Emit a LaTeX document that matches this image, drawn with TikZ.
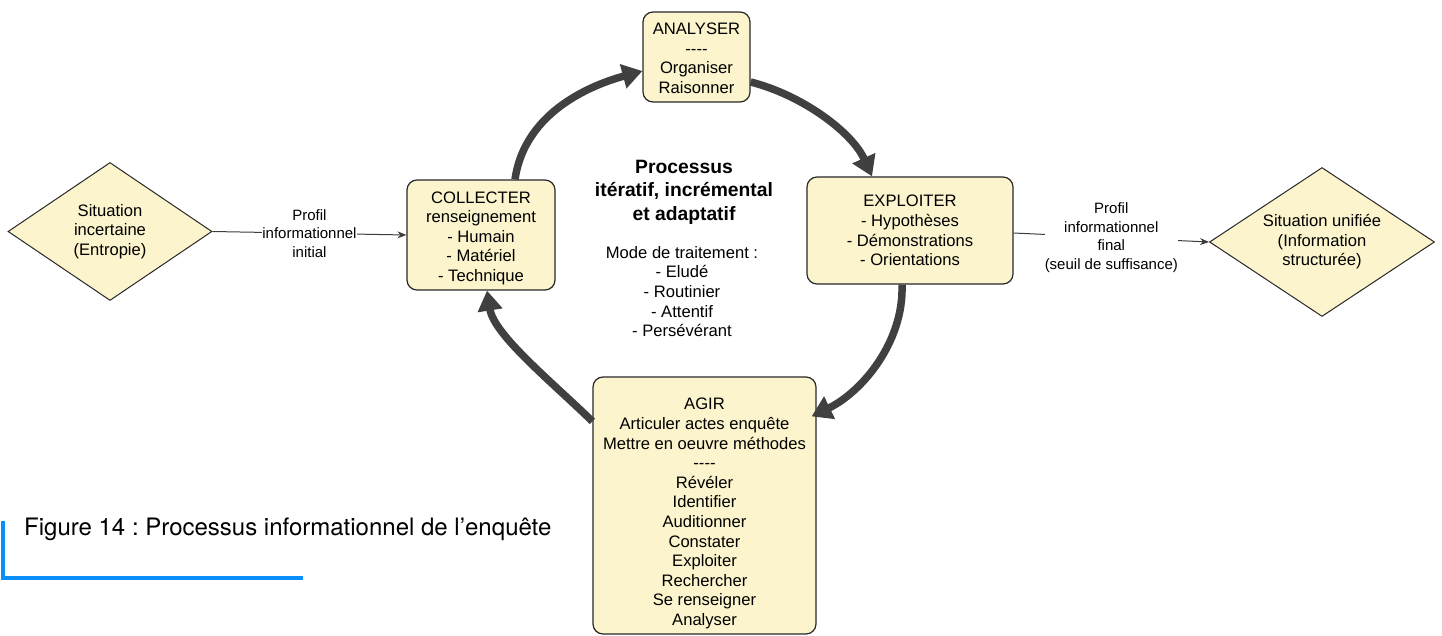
\documentclass[tikz,border=0pt]{standalone}
\usepackage{fontspec}
\setmainfont{Liberation Sans}
\newfontfamily\capfont{TeX Gyre Heros}
\usetikzlibrary{shapes.geometric,arrows.meta}
\frenchspacing

\definecolor{boxfill}{RGB}{251,244,204}
\definecolor{boxline}{RGB}{40,40,40}
\definecolor{flow}{RGB}{64,64,64}
\definecolor{thinline}{RGB}{60,60,60}
\definecolor{capblue}{RGB}{10,142,250}

% four hyphens kept apart so they are not merged into dashes
\newcommand{\sepline}{-\kern0pt-\kern0pt-\kern0pt-}

\tikzset{
  stagebox/.style={draw=boxline, line width=1.2pt, fill=boxfill, rounded corners=10pt,
    align=center, inner sep=2pt, font=\fontsize{16.6}{19.6}\selectfont},
  endstate/.style={draw=boxline, line width=1pt, fill=boxfill, shape=diamond, aspect=1.5,
    inner sep=0pt, align=center, font=\fontsize{16.6}{19.6}\selectfont},
  looparrow/.style={draw=flow, line width=7.5pt, -{Triangle[length=20pt,width=24pt]}},
  infolink/.style={draw=thinline, line width=1pt, -{Stealth[length=9pt,width=7pt]}},
  linklabel/.style={fill=white, inner sep=0pt, align=center, font=\fontsize{15}{18.5}\selectfont},
  bodytext/.style={align=center, font=\fontsize{16.6}{19.6}\selectfont},
}

\begin{document}
\begin{tikzpicture}[x=1pt,y=-1pt]
\useasboundingbox (0,0) rectangle (1442,636);

% the four stages of the cycle
\node[stagebox, minimum width=107pt, minimum height=90pt] (analys) at (696.5,57)
  {\rule{0pt}{14pt}ANALYSER\\\sepline\\Organiser\\Raisonner};
\node[stagebox, minimum width=148pt, minimum height=110pt] (collect) at (481,235)
  {\rule{0pt}{18pt}COLLECTER\\renseignement\\- Humain\\- Matériel\\- Technique};
\node[stagebox, minimum width=206pt, minimum height=107pt] (explo) at (910,230.5)
  {EXPLOITER\\- Hypothèses\\- Démonstrations\\- Orientations};
\node[stagebox, minimum width=223pt, minimum height=257pt] (agir) at (704.5,505.5)
  {\rule{0pt}{28pt}AGIR\\Articuler actes enquête\\Mettre en oeuvre méthodes\\\sepline\\Révéler\\Identifier\\Auditionner\\Constater\\Exploiter\\Rechercher\\Se renseigner\\Analyser};

% start and end situations
\node[endstate, minimum width=204pt, minimum height=138pt] (uncertain) at (110,231.5)
  {Situation\\incertaine\\(Entropie)};
\node[endstate, minimum width=225pt, minimum height=149pt] (unified) at (1322,242)
  {Situation unifiée\\(Information\\structurée)};

% text in the middle of the cycle
\node[align=center, font=\bfseries\fontsize{19.3}{23.5}\selectfont] (title) at (684,192)
  {Processus\\itératif, incrémental\\et adaptatif};
\node[bodytext] (modes) at (682,291.5)
  {Mode de traitement :\\- Eludé\\- Routinier\\ - Attentif\\- Persévérant};

% cycle arrows
\draw[looparrow] ([xshift=34pt]collect.north) .. controls (525,110) and (595,84) .. ([yshift=-14pt]analys.west);
\draw[looparrow] ([yshift=-25pt]analys.east) .. controls (802,95) and (852,132) .. ([xshift=-38pt]explo.north);
\draw[looparrow] ([xshift=-8pt]explo.south) .. controls (904,342) and (862,392) .. ([xshift=-5pt,yshift=-40pt]agir.north east);
\draw[looparrow] ([yshift=-45pt]agir.north west) .. controls (552,382) and (494,335) .. ([xshift=6pt]collect.south);

% information profile links
\draw[infolink] (uncertain.east) -- node[linklabel] (initlabel) {Profil\\informationnel\\initial} (collect.west);
\draw[infolink] ([yshift=-2.5pt]explo.east) -- node[linklabel] (finallabel) {Profil\\informationnel\\final\\(seuil de suffisance)} (unified.west);

% caption with its blue corner rule
\node[anchor=base west, inner sep=0pt, font=\capfont\fontsize{24}{28}\selectfont] (caption) at (24,535)
  {Figure 14 : Processus informationnel de l’enquête};
\draw[capblue, line width=4pt, line join=miter] (2.5,521) -- (2.5,578) -- (303,578);
\end{tikzpicture}
\end{document}
